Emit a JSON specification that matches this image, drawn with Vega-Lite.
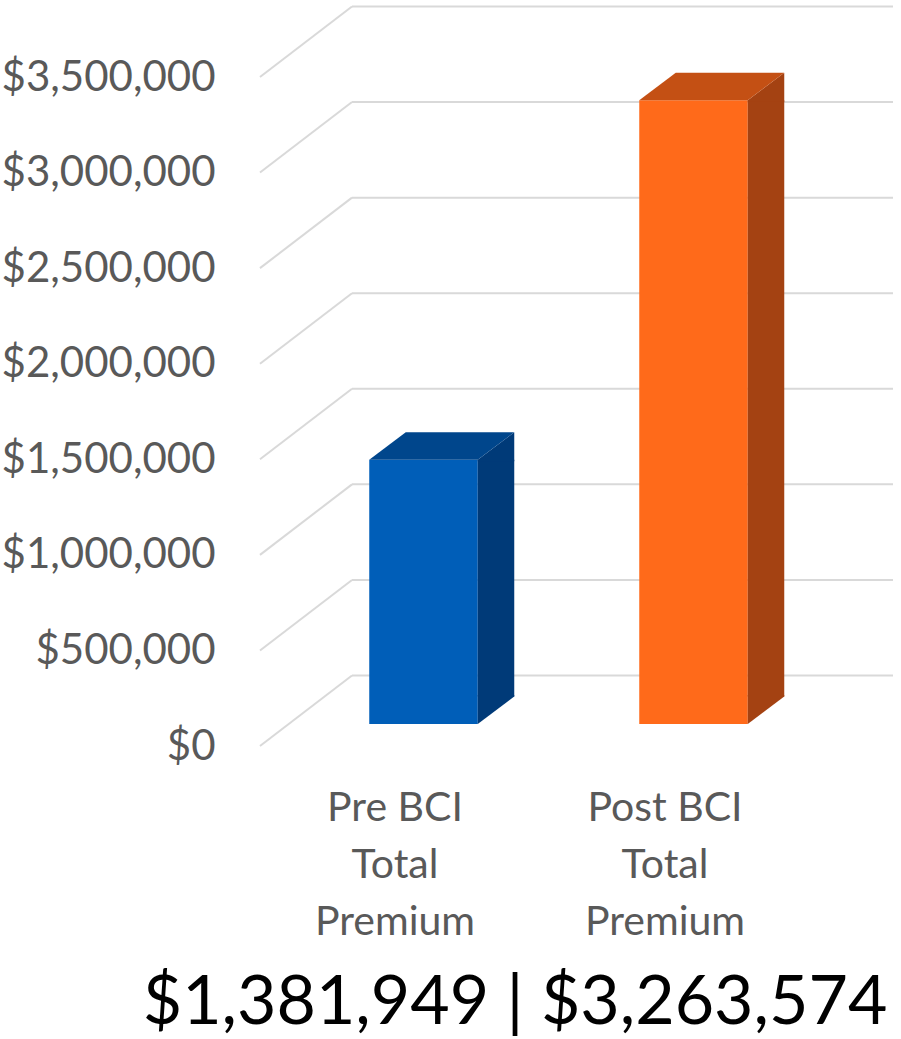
{
  "$schema": "https://vega.github.io/schema/vega-lite/v6.json",
  "width": 540,
  "height": 669,
  "autosize": {"type": "none"},
  "padding": {"left": 260, "top": 77, "right": 101, "bottom": 293},
  "background": "white",
  "config": {"view": {"stroke": null}, "font": "Lato"},
  "datasets": {
    "bars": [
      {"cat": "Pre BCI Total Premium", "premium": 1381949},
      {"cat": "Post BCI Total Premium", "premium": 3263574}
    ],
    "grid": [
      {"v": 0}, {"v": 500000}, {"v": 1000000}, {"v": 1500000},
      {"v": 2000000}, {"v": 2500000}, {"v": 3000000}, {"v": 3500000}
    ]
  },
  "title": {
    "text": "$1,381,949 | $3,263,574",
    "orient": "bottom",
    "anchor": "middle",
    "frame": "group",
    "font": "Lato",
    "fontSize": 68,
    "fontWeight": "normal",
    "color": "#000000",
    "dx": -15,
    "offset": 28
  },
  "layer": [
    {
      "data": {"name": "grid"},
      "mark": {"type": "rule", "color": "#D9D9D9", "strokeWidth": 2, "y2Offset": -70.5},
      "encoding": {
        "y": {
          "field": "v",
          "type": "quantitative",
          "scale": {"domain": [0, 3500000], "nice": false, "zero": true},
          "axis": {
            "title": null,
            "domain": false,
            "ticks": false,
            "grid": false,
            "values": [0, 500000, 1000000, 1500000, 2000000, 2500000, 3000000, 3500000],
            "format": "$,.0f",
            "labelFont": "Lato",
            "labelFontSize": 42,
            "labelColor": "#595959",
            "labelPadding": 45,
            "labelOverlap": false,
            "labelBound": false,
            "labelFlush": false,
            "labelLimit": 400
          }
        },
        "y2": {"field": "v"},
        "x": {"value": 0},
        "x2": {"value": 92}
      }
    },
    {
      "data": {"name": "grid"},
      "mark": {"type": "rule", "color": "#D9D9D9", "strokeWidth": 2, "yOffset": -70.5},
      "encoding": {
        "y": {"field": "v", "type": "quantitative"},
        "x": {"value": 92},
        "x2": {"value": 633}
      }
    },
    {
      "data": {"name": "bars"},
      "mark": {"type": "bar", "width": 108.5, "xOffset": 28.5, "yOffset": -22, "y2Offset": -22},
      "encoding": {
        "x": {
          "field": "cat",
          "type": "nominal",
          "sort": ["Pre BCI Total Premium", "Post BCI Total Premium"],
          "scale": {"paddingInner": 0, "paddingOuter": 0},
          "axis": {
            "title": null,
            "domain": false,
            "ticks": false,
            "labelAngle": 0,
            "labelFont": "Lato",
            "labelFontSize": 41,
            "labelColor": "#595959",
            "labelPadding": 42,
            "labelLineHeight": 57,
            "labelBaseline": "top",
            "labelLimit": 400,
            "labelExpr": "[replace(datum.label, ' Total Premium', ''), 'Total', 'Premium']"
          }
        },
        "y": {"field": "premium", "type": "quantitative"},
        "y2": {"datum": 0},
        "color": {
          "condition": {"test": "datum.cat === 'Pre BCI Total Premium'", "value": "#005EB8"},
          "value": "#FF6A1A"
        }
      }
    },
    {
      "data": {"name": "bars"},
      "mark": {"type": "bar", "width": 36.5, "xOffset": 101, "yOffset": -22, "y2Offset": -49.5},
      "encoding": {
        "x": {"field": "cat", "type": "nominal", "sort": ["Pre BCI Total Premium", "Post BCI Total Premium"]},
        "y": {"field": "premium", "type": "quantitative"},
        "y2": {"datum": 0},
        "color": {
          "condition": {"test": "datum.cat === 'Pre BCI Total Premium'", "value": "#003A78"},
          "value": "#A44212"
        }
      }
    },
    {
      "data": {"name": "bars"},
      "mark": {"type": "point", "shape": "M54.25,1.5L54.25,0L90.75,-27.5L90.75,1.5Z", "size": 4, "filled": true, "opacity": 1, "strokeWidth": 0, "xOffset": 28.5, "yOffset": -22},
      "encoding": {
        "x": {"field": "cat", "type": "nominal", "sort": ["Pre BCI Total Premium", "Post BCI Total Premium"]},
        "y": {"field": "premium", "type": "quantitative"},
        "color": {
          "condition": {"test": "datum.cat === 'Pre BCI Total Premium'", "value": "#003A78"},
          "value": "#A44212"
        }
      }
    },
    {
      "data": {"name": "bars"},
      "mark": {"type": "point", "shape": "M54.25,0L54.25,-29L90.75,-29L90.75,-27.5Z", "size": 4, "filled": true, "opacity": 1, "strokeWidth": 0, "xOffset": 28.5, "yOffset": -22},
      "encoding": {
        "x": {"field": "cat", "type": "nominal", "sort": ["Pre BCI Total Premium", "Post BCI Total Premium"]},
        "y": {"datum": 0},
        "color": {
          "condition": {"test": "datum.cat === 'Pre BCI Total Premium'", "value": "#003A78"},
          "value": "#A44212"
        }
      }
    },
    {
      "data": {"name": "bars"},
      "mark": {"type": "point", "shape": "M-54.25,0L54.25,0L90.75,-27.5L-17.75,-27.5Z", "size": 4, "filled": true, "opacity": 1, "strokeWidth": 0, "xOffset": 28.5, "yOffset": -22},
      "encoding": {
        "x": {"field": "cat", "type": "nominal", "sort": ["Pre BCI Total Premium", "Post BCI Total Premium"]},
        "y": {"field": "premium", "type": "quantitative"},
        "color": {
          "condition": {"test": "datum.cat === 'Pre BCI Total Premium'", "value": "#00468C"},
          "value": "#C45014"
        }
      }
    }
  ]
}
